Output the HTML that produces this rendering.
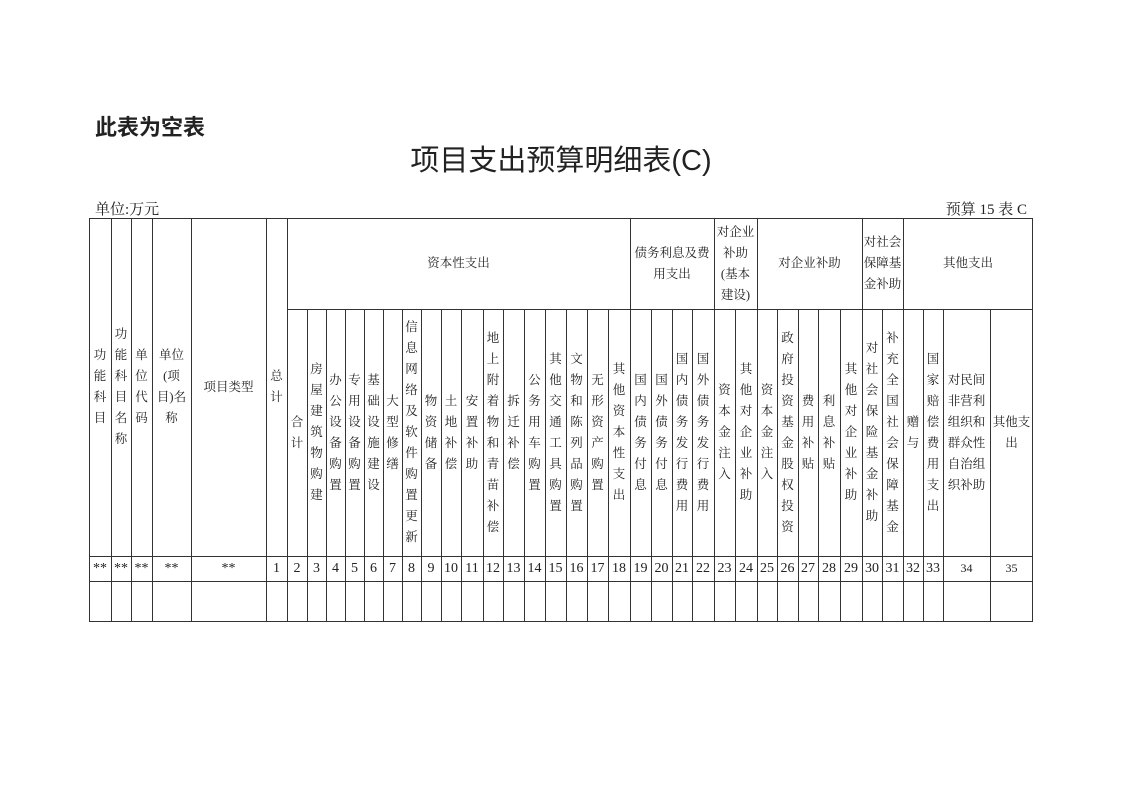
<!DOCTYPE html>
<html><head><meta charset="utf-8">
<style>
html,body{margin:0;padding:0;background:#fff;}
body{width:1122px;height:793px;position:relative;overflow:hidden;font-family:"Liberation Serif","Noto Serif CJK SC",serif;color:#222;}
.c{position:absolute;display:flex;align-items:center;justify-content:center;text-align:center;font-size:12.5px;line-height:21px;}
.v>span{display:block;width:14px;word-break:break-all;}
.n{font-size:14px;}
</style></head><body>
<div style="position:absolute;left:95px;top:110px;font-family:'Liberation Sans','Noto Sans CJK SC',sans-serif;font-weight:bold;font-size:22px;">此表为空表</div>
<div style="position:absolute;left:0;width:1122px;top:137px;text-align:center;font-family:'Liberation Sans','Noto Sans CJK SC',sans-serif;font-size:29px;">项目支出预算明细表(C)</div>
<div style="position:absolute;left:95px;top:198px;font-size:15px;">单位:万元</div>
<div style="position:absolute;right:95px;top:198px;font-size:15px;">预算 15 表 C</div>

<svg style="position:absolute;left:0;top:0" width="1122" height="793">
<g stroke="#333" stroke-width="1" shape-rendering="crispEdges">
<line x1="89" y1="218.5" x2="1033" y2="218.5"/>
<line x1="287" y1="309.5" x2="1033" y2="309.5"/>
<line x1="89" y1="556.5" x2="1033" y2="556.5"/>
<line x1="89" y1="581.5" x2="1033" y2="581.5"/>
<line x1="89" y1="621.5" x2="1033" y2="621.5"/>
<g>
<line x1="89.5" y1="218" x2="89.5" y2="622"/><line x1="111.5" y1="218" x2="111.5" y2="622"/><line x1="131.5" y1="218" x2="131.5" y2="622"/><line x1="152.5" y1="218" x2="152.5" y2="622"/><line x1="191.5" y1="218" x2="191.5" y2="622"/><line x1="266.5" y1="218" x2="266.5" y2="622"/><line x1="287.5" y1="218" x2="287.5" y2="622"/>
<line x1="630.5" y1="218" x2="630.5" y2="622"/><line x1="714.5" y1="218" x2="714.5" y2="622"/><line x1="757.5" y1="218" x2="757.5" y2="622"/><line x1="862.5" y1="218" x2="862.5" y2="622"/><line x1="903.5" y1="218" x2="903.5" y2="622"/><line x1="1032.5" y1="218" x2="1032.5" y2="622"/>
</g>
<g>
<line x1="307.5" y1="309" x2="307.5" y2="622"/><line x1="326.5" y1="309" x2="326.5" y2="622"/><line x1="345.5" y1="309" x2="345.5" y2="622"/><line x1="364.5" y1="309" x2="364.5" y2="622"/><line x1="383.5" y1="309" x2="383.5" y2="622"/><line x1="402.5" y1="309" x2="402.5" y2="622"/><line x1="421.5" y1="309" x2="421.5" y2="622"/><line x1="441.5" y1="309" x2="441.5" y2="622"/><line x1="461.5" y1="309" x2="461.5" y2="622"/><line x1="483.5" y1="309" x2="483.5" y2="622"/><line x1="503.5" y1="309" x2="503.5" y2="622"/><line x1="524.5" y1="309" x2="524.5" y2="622"/><line x1="545.5" y1="309" x2="545.5" y2="622"/><line x1="566.5" y1="309" x2="566.5" y2="622"/><line x1="587.5" y1="309" x2="587.5" y2="622"/><line x1="608.5" y1="309" x2="608.5" y2="622"/>
<line x1="651.5" y1="309" x2="651.5" y2="622"/><line x1="672.5" y1="309" x2="672.5" y2="622"/><line x1="692.5" y1="309" x2="692.5" y2="622"/>
<line x1="735.5" y1="309" x2="735.5" y2="622"/>
<line x1="777.5" y1="309" x2="777.5" y2="622"/><line x1="798.5" y1="309" x2="798.5" y2="622"/><line x1="818.5" y1="309" x2="818.5" y2="622"/><line x1="840.5" y1="309" x2="840.5" y2="622"/>
<line x1="882.5" y1="309" x2="882.5" y2="622"/>
<line x1="923.5" y1="309" x2="923.5" y2="622"/><line x1="943.5" y1="309" x2="943.5" y2="622"/><line x1="990.5" y1="309" x2="990.5" y2="622"/>
</g>
</g>
</svg>

<div class="c v" style="left:89px;width:22px;top:218px;height:338px"><span>功能科目</span></div>
<div class="c v" style="left:111px;width:20px;top:218px;height:338px"><span>功能科目名称</span></div>
<div class="c v" style="left:131px;width:21px;top:218px;height:338px"><span>单位代码</span></div>
<div class="c" style="left:152px;width:39px;top:218px;height:338px">单位<br>(项<br>目)名<br>称</div>
<div class="c" style="left:191px;width:75px;top:218px;height:338px">项目类型</div>
<div class="c v" style="left:266px;width:21px;top:218px;height:338px"><span>总计</span></div>

<div class="c" style="left:287px;width:343px;top:218px;height:91px">资本性支出</div>
<div class="c" style="left:630px;width:84px;top:218px;height:91px">债务利息及费<br>用支出</div>
<div class="c" style="left:714px;width:43px;top:218px;height:91px">对企业<br>补助<br>(基本<br>建设)</div>
<div class="c" style="left:757px;width:105px;top:218px;height:91px">对企业补助</div>
<div class="c" style="left:862px;width:41px;top:218px;height:91px">对社会<br>保障基<br>金补助</div>
<div class="c" style="left:903px;width:130px;top:218px;height:91px">其他支出</div>

<div class="c v" style="left:287px;width:20px;top:309px;height:247px"><span>合计</span></div>
<div class="c v" style="left:307px;width:19px;top:309px;height:247px"><span>房屋建筑物购建</span></div>
<div class="c v" style="left:326px;width:19px;top:309px;height:247px"><span>办公设备购置</span></div>
<div class="c v" style="left:345px;width:19px;top:309px;height:247px"><span>专用设备购置</span></div>
<div class="c v" style="left:364px;width:19px;top:309px;height:247px"><span>基础设施建设</span></div>
<div class="c v" style="left:383px;width:19px;top:309px;height:247px"><span>大型修缮</span></div>
<div class="c v" style="left:402px;width:19px;top:309px;height:247px"><span>信息网络及软件购置更新</span></div>
<div class="c v" style="left:421px;width:20px;top:309px;height:247px"><span>物资储备</span></div>
<div class="c v" style="left:441px;width:20px;top:309px;height:247px"><span>土地补偿</span></div>
<div class="c v" style="left:461px;width:22px;top:309px;height:247px"><span>安置补助</span></div>
<div class="c v" style="left:483px;width:20px;top:309px;height:247px"><span>地上附着物和青苗补偿</span></div>
<div class="c v" style="left:503px;width:21px;top:309px;height:247px"><span>拆迁补偿</span></div>
<div class="c v" style="left:524px;width:21px;top:309px;height:247px"><span>公务用车购置</span></div>
<div class="c v" style="left:545px;width:21px;top:309px;height:247px"><span>其他交通工具购置</span></div>
<div class="c v" style="left:566px;width:21px;top:309px;height:247px"><span>文物和陈列品购置</span></div>
<div class="c v" style="left:587px;width:21px;top:309px;height:247px"><span>无形资产购置</span></div>
<div class="c v" style="left:608px;width:22px;top:309px;height:247px"><span>其他资本性支出</span></div>
<div class="c v" style="left:630px;width:21px;top:309px;height:247px"><span>国内债务付息</span></div>
<div class="c v" style="left:651px;width:21px;top:309px;height:247px"><span>国外债务付息</span></div>
<div class="c v" style="left:672px;width:20px;top:309px;height:247px"><span>国内债务发行费用</span></div>
<div class="c v" style="left:692px;width:22px;top:309px;height:247px"><span>国外债务发行费用</span></div>
<div class="c v" style="left:714px;width:21px;top:309px;height:247px"><span>资本金注入</span></div>
<div class="c v" style="left:735px;width:22px;top:309px;height:247px"><span>其他对企业补助</span></div>
<div class="c v" style="left:757px;width:20px;top:309px;height:247px"><span>资本金注入</span></div>
<div class="c v" style="left:777px;width:21px;top:309px;height:247px"><span>政府投资基金股权投资</span></div>
<div class="c v" style="left:798px;width:20px;top:309px;height:247px"><span>费用补贴</span></div>
<div class="c v" style="left:818px;width:22px;top:309px;height:247px"><span>利息补贴</span></div>
<div class="c v" style="left:840px;width:22px;top:309px;height:247px"><span>其他对企业补助</span></div>
<div class="c v" style="left:862px;width:20px;top:309px;height:247px"><span>对社会保险基金补助</span></div>
<div class="c v" style="left:882px;width:21px;top:309px;height:247px"><span>补充全国社会保障基金</span></div>
<div class="c v" style="left:903px;width:20px;top:309px;height:247px"><span>赠与</span></div>
<div class="c v" style="left:923px;width:20px;top:309px;height:247px"><span>国家赔偿费用支出</span></div>
<div class="c" style="left:943px;width:47px;top:309px;height:247px">对民间<br>非营利<br>组织和<br>群众性<br>自治组<br>织补助</div>
<div class="c" style="left:990px;width:43px;top:309px;height:247px">其他支<br>出</div>

<div class="c n" style="left:89px;width:22px;top:556px;height:25px">**</div>
<div class="c n" style="left:111px;width:20px;top:556px;height:25px">**</div>
<div class="c n" style="left:131px;width:21px;top:556px;height:25px">**</div>
<div class="c n" style="left:152px;width:39px;top:556px;height:25px">**</div>
<div class="c n" style="left:191px;width:75px;top:556px;height:25px">**</div>
<div class="c n" style="left:266px;width:21px;top:556px;height:25px">1</div>
<div class="c n" style="left:287px;width:20px;top:556px;height:25px">2</div>
<div class="c n" style="left:307px;width:19px;top:556px;height:25px">3</div>
<div class="c n" style="left:326px;width:19px;top:556px;height:25px">4</div>
<div class="c n" style="left:345px;width:19px;top:556px;height:25px">5</div>
<div class="c n" style="left:364px;width:19px;top:556px;height:25px">6</div>
<div class="c n" style="left:383px;width:19px;top:556px;height:25px">7</div>
<div class="c n" style="left:402px;width:19px;top:556px;height:25px">8</div>
<div class="c n" style="left:421px;width:20px;top:556px;height:25px">9</div>
<div class="c n" style="left:441px;width:20px;top:556px;height:25px">10</div>
<div class="c n" style="left:461px;width:22px;top:556px;height:25px">11</div>
<div class="c n" style="left:483px;width:20px;top:556px;height:25px">12</div>
<div class="c n" style="left:503px;width:21px;top:556px;height:25px">13</div>
<div class="c n" style="left:524px;width:21px;top:556px;height:25px">14</div>
<div class="c n" style="left:545px;width:21px;top:556px;height:25px">15</div>
<div class="c n" style="left:566px;width:21px;top:556px;height:25px">16</div>
<div class="c n" style="left:587px;width:21px;top:556px;height:25px">17</div>
<div class="c n" style="left:608px;width:22px;top:556px;height:25px">18</div>
<div class="c n" style="left:630px;width:21px;top:556px;height:25px">19</div>
<div class="c n" style="left:651px;width:21px;top:556px;height:25px">20</div>
<div class="c n" style="left:672px;width:20px;top:556px;height:25px">21</div>
<div class="c n" style="left:692px;width:22px;top:556px;height:25px">22</div>
<div class="c n" style="left:714px;width:21px;top:556px;height:25px">23</div>
<div class="c n" style="left:735px;width:22px;top:556px;height:25px">24</div>
<div class="c n" style="left:757px;width:20px;top:556px;height:25px">25</div>
<div class="c n" style="left:777px;width:21px;top:556px;height:25px">26</div>
<div class="c n" style="left:798px;width:20px;top:556px;height:25px">27</div>
<div class="c n" style="left:818px;width:22px;top:556px;height:25px">28</div>
<div class="c n" style="left:840px;width:22px;top:556px;height:25px">29</div>
<div class="c n" style="left:862px;width:20px;top:556px;height:25px">30</div>
<div class="c n" style="left:882px;width:21px;top:556px;height:25px">31</div>
<div class="c n" style="left:903px;width:20px;top:556px;height:25px">32</div>
<div class="c n" style="left:923px;width:20px;top:556px;height:25px">33</div>
<div class="c n" style="left:943px;width:47px;top:556px;height:25px;font-size:12px">34</div>
<div class="c n" style="left:990px;width:43px;top:556px;height:25px;font-size:12px">35</div>
</body></html>
